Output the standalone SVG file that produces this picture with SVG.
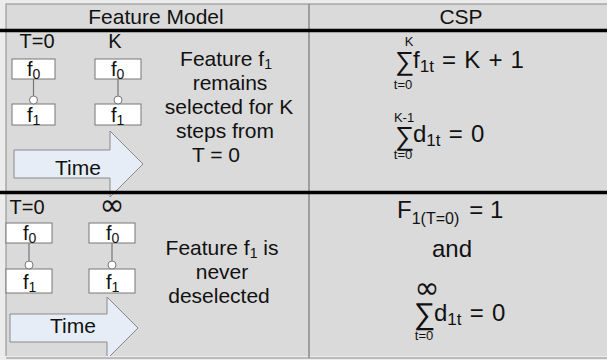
<svg xmlns="http://www.w3.org/2000/svg" width="607" height="360" viewBox="0 0 607 360">
<style>
text{font-family:"Liberation Sans",Arial,sans-serif;fill:#111}
.hd{font-size:21px;text-anchor:middle}
.lb{font-size:20px;text-anchor:middle}
.desc{font-size:21px;text-anchor:middle}
.box{fill:#fff;stroke:#777;stroke-width:1}
.fb{font-size:20px}
.sub{font-size:14px}
.link{stroke:#777;stroke-width:1.2;fill:none}
.dot{fill:#fff;stroke:#777;stroke-width:1}
.arrow{fill:#e6edf7;stroke:#8a8a8a;stroke-width:1}
.big{font-size:24px;word-spacing:1.5px}
.lim{font-size:13px;text-anchor:middle}
.inf{font-family:"DejaVu Sans",sans-serif;font-size:30px;text-anchor:middle}
.thick{stroke:#000;stroke-width:3.5}
</style>
<rect x="0" y="0" width="607" height="360" fill="#ececec"/>
<rect x="6" y="4" width="604" height="354" fill="#dadada" stroke="#8a8a8a" stroke-width="1"/>
<g id="arrows">
<path class="arrow" d="M14 150H110V131L143 164L110 197V178H14Z"/>
<path class="arrow" d="M10 314H107V297L138 328L107 359V342H10Z"/>
</g>
<rect x="0" y="356" width="607" height="4" fill="#ececec"/>
<line x1="6" y1="358" x2="607" y2="358" stroke="#8a8a8a"/>
<line x1="309" y1="4" x2="309" y2="358" stroke="#8a8a8a" stroke-width="1.5"/>
<line class="thick" x1="0" y1="30.5" x2="607" y2="30.5"/>
<line class="thick" x1="0" y1="192.5" x2="607" y2="192.5"/>
<g id="header">
<text class="hd" x="156" y="24">Feature Model</text>
<text class="hd" x="461" y="24">CSP</text>
</g>
<g id="connectors">
<line class="link" x1="33.5" y1="79" x2="33.5" y2="96"/>
<line class="link" x1="118" y1="79" x2="118" y2="96"/>
<line class="link" x1="29" y1="243" x2="29" y2="261"/>
<line class="link" x1="112" y1="243" x2="112" y2="261"/>
</g>
<g id="row1-left">
<text class="lb" x="37" y="48">T=0</text>
<text class="lb" x="115" y="48">K</text>
<g id="n1-f0"><rect class="box" x="12" y="59" width="43" height="20"/><text class="fb" x="27" y="76">f<tspan class="sub" dy="3">0</tspan></text></g>
<g id="n1-f1"><rect class="box" x="12" y="104" width="43" height="21"/><text class="fb" x="27" y="122">f<tspan class="sub" dy="3">1</tspan></text></g>
<circle class="dot" cx="33.5" cy="100" r="4"/>
<g id="n2-f0"><rect class="box" x="95" y="59" width="46" height="20"/><text class="fb" x="111" y="76">f<tspan class="sub" dy="3">0</tspan></text></g>
<g id="n2-f1"><rect class="box" x="95" y="104" width="46" height="21"/><text class="fb" x="111" y="122">f<tspan class="sub" dy="3">1</tspan></text></g>
<circle class="dot" cx="118" cy="100" r="4"/>
<text x="55" y="175" font-size="21">Time</text>
<text class="desc" x="226" y="66">Feature f<tspan font-size="14" dy="3">1</tspan></text>
<text class="desc" x="230" y="90">remains</text>
<text class="desc" x="229" y="114">selected for K</text>
<text class="desc" x="225" y="138">steps from</text>
<text class="desc" x="216" y="162">T = 0</text>
</g>
<g id="row1-right">
<text class="lim" x="409" y="46">K</text>
<text font-size="24" transform="translate(395 70) scale(1.12 1.1)">∑</text>
<text class="big" x="413" y="68">f<tspan font-size="17" dy="4">1t</tspan><tspan dy="-4"> = K + 1</tspan></text>
<text class="lim" x="403" y="89">t=0</text>
<text class="lim" x="404" y="122">K-1</text>
<text font-size="24" transform="translate(395 145) scale(1.12 1.1)">∑</text>
<text class="big" x="413" y="142">d<tspan font-size="17" dy="4">1t</tspan><tspan dy="-4"> = 0</tspan></text>
<text class="lim" x="403" y="159">t=0</text>
</g>
<g id="row2-left">
<text class="lb" x="27" y="214" font-size="22">T=0</text>
<text class="inf" x="112" y="215">∞</text>
<g id="n3-f0"><rect class="box" x="6" y="223" width="46" height="20"/><text class="fb" x="23" y="240">f<tspan class="sub" dy="3">0</tspan></text></g>
<g id="n3-f1"><rect class="box" x="6" y="269" width="46" height="24"/><text class="fb" x="23" y="289">f<tspan class="sub" dy="3">1</tspan></text></g>
<circle class="dot" cx="29" cy="265" r="4"/>
<g id="n4-f0"><rect class="box" x="89" y="223" width="46" height="20"/><text class="fb" x="106" y="240">f<tspan class="sub" dy="3">0</tspan></text></g>
<g id="n4-f1"><rect class="box" x="89" y="269" width="46" height="24"/><text class="fb" x="106" y="289">f<tspan class="sub" dy="3">1</tspan></text></g>
<circle class="dot" cx="112" cy="265" r="4"/>
<text x="50" y="333" font-size="21">Time</text>
<text class="desc" x="222" y="255" font-size="22">Feature f<tspan font-size="14" dy="3">1</tspan><tspan dy="-3"> is</tspan></text>
<text class="desc" x="222" y="279" font-size="22">never</text>
<text class="desc" x="219" y="303" font-size="22">deselected</text>
</g>
<g id="row2-right">
<text font-size="24" x="397" y="218">F<tspan font-size="16" dy="6">1(T=0)</tspan><tspan dy="-6" dx="10">= 1</tspan></text>
<text font-size="24" x="452" y="257" text-anchor="middle">and</text>
<text class="inf" x="427" y="298">∞</text>
<text font-size="24" transform="translate(414 324) scale(1.25 1.25)">∑</text>
<text class="big" x="434" y="321">d<tspan font-size="17" dy="4">1t</tspan><tspan dy="-4"> = 0</tspan></text>
<text class="lim" x="424" y="340">t=0</text>
</g>
</svg>
